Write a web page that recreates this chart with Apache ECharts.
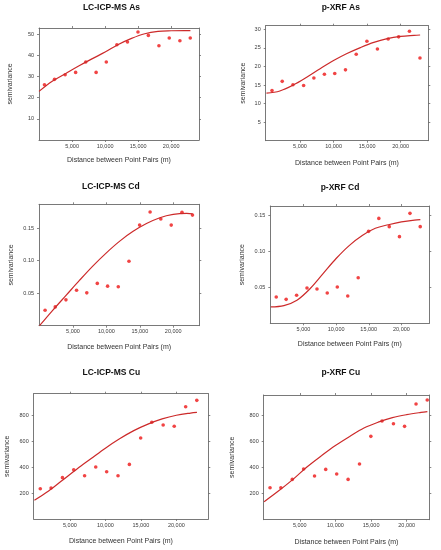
<!DOCTYPE html>
<html><head><meta charset="utf-8">
<script src="https://cdn.jsdelivr.net/npm/echarts@6/dist/echarts.min.js"></script>
<style>html,body{margin:0;padding:0;background:#fff}#c{width:441px;height:550px}</style>
</head><body><div id="c"></div>
<script>
// ---- data ----
const lags = [830, 2350, 3950, 5540, 7070, 8640, 10180, 11780, 13380, 14970, 16540, 18140, 19700, 21310, 22880];
const lcAs  = [26.1, 28.7, 30.9, 32.0, 36.9, 32.0, 36.9, 45.1, 46.4, 51.1, 49.5, 44.6, 48.3, 47.0, 48.3];
const xrfAs = [13.5, 16.0, 15.1, 14.9, 16.9, 17.9, 18.1, 19.1, 23.3, 26.8, 24.7, 27.4, 28.0, 29.5, 22.3];
const lcCd  = [0.0237, 0.0289, 0.0397, 0.0546, 0.0505, 0.065, 0.0608, 0.0598, 0.099, 0.1546, 0.1747, 0.1639, 0.1546, 0.1742, 0.170];
const xrfCd = [0.0366, 0.0333, 0.0389, 0.049, 0.0477, 0.0421, 0.0505, 0.038, 0.0634, 0.1278, 0.1458, 0.1343, 0.1204, 0.1528, 0.1343];
const lcCu  = [233, 238, 318, 379, 333, 400, 364, 333, 420, 623, 744, 723, 713, 864, 913];
const xrfCu = [246, 246, 310, 390, 336, 387, 351, 310, 428, 641, 759, 738, 718, 890, 921];

const fitX = [0, 2000, 4000, 6000, 8000, 10000, 12000, 14000, 16000, 18000, 20000, 22000, 22900];
const lcAsFit  = [23.0, 27.8, 31.4, 35.0, 38.4, 41.6, 45.2, 48.1, 50.3, 51.4, 51.7, 51.8, 51.8];
const xrfAsFit = [12.8, 13.4, 15.0, 17.1, 19.4, 21.6, 23.5, 25.1, 26.5, 27.5, 28.1, 28.4, 28.5];
const lcCdFit  = [0, 0.024, 0.047, 0.070, 0.092, 0.112, 0.130, 0.145, 0.157, 0.166, 0.171, 0.1725, 0.172];
const xrfCdFit = [0.0227, 0.0245, 0.032, 0.048, 0.069, 0.090, 0.108, 0.122, 0.132, 0.137, 0.141, 0.1435, 0.144];
const lcCuFit  = [144, 215, 300, 385, 465, 545, 617, 680, 730, 770, 798, 815, 820];
const xrfCuFit = [138, 220, 308, 405, 490, 570, 640, 705, 750, 785, 808, 825, 831];

const xTickValues = [5000, 10000, 15000, 20000];
const yTicksLcAs  = [10, 20, 30, 40, 50];
const yTicksXrfAs = [5, 10, 15, 20, 25, 30];
const yTicksCd    = [0.05, 0.10, 0.15];
const yTicksCu    = [200, 400, 600, 800];

const titles = ['LC-ICP-MS As', 'p-XRF As', 'LC-ICP-MS Cd', 'p-XRF Cd', 'LC-ICP-MS Cu', 'p-XRF Cu'];
const xAxisTitle = 'Distance between Point Pairs (m)';
const yAxisTitle = 'semivariance';

const pointSets = [lcAs, xrfAs, lcCd, xrfCd, lcCu, xrfCu];
const fitSets = [lcAsFit, xrfAsFit, lcCdFit, xrfCdFit, lcCuFit, xrfCuFit];
const yTickSets = [yTicksLcAs, yTicksXrfAs, yTicksCd, yTicksCd, yTicksCu, yTicksCu];

// ---- layout ----
const layout = [
  {g:[39,28,160,112],        x:[0,24200],   y:[0,53],     tx:111.5, ty:8.3,   xg:17, yg:25, dec:0},
  {g:[265.7,25.7,162.6,115], x:[-110,24120],y:[0,31],     tx:340.8, ty:8.0,   xg:19, yg:19, dec:0},
  {g:[39,204.3,160.3,121.4], x:[-80,23900], y:[0,0.1866], tx:110.8, ty:187.3, xg:17.5, yg:24.5, dec:2},
  {g:[270.3,206,159,117.3],  x:[-80,24270], y:[0,0.163],  tx:340,   ty:188.3, xg:17.5, yg:25, dec:2},
  {g:[33.7,393.7,174.6,125.3],x:[-100,24500],y:[0,964],   tx:111.3, ty:373.3, xg:19, yg:23, dec:0},
  {g:[263.7,395,165.6,124.7],x:[-60,23170], y:[0,959],    tx:340.8, ty:373.3, xg:18.5, yg:28, dec:0}
];

const FONT = '"Liberation Sans", Arial, Helvetica, sans-serif';
const boxColor = '#6a6a6a';
const labelColor = '#3a3a3a';

const grid = [], xAxis = [], yAxis = [], series = [], title = [];
layout.forEach((L, i) => {
  grid.push({left: L.g[0], top: L.g[1], width: L.g[2], height: L.g[3], containLabel: false});
  title.push({text: titles[i], left: L.tx, top: L.ty - 5, textAlign: 'center', padding: 0,
    textStyle: {fontFamily: FONT, fontSize: 8.5, fontWeight: 'bold', color: '#111'}});
  const common = {
    type: 'value', gridIndex: i, splitLine: {show: false},
    axisLine: {show: true, onZero: false, lineStyle: {color: boxColor, width: 0.9}}
  };
  xAxis.push(Object.assign({}, common, {
    position: 'bottom', min: L.x[0], max: L.x[1],
    axisTick: {show: true, inside: false, length: 2, customValues: xTickValues, lineStyle: {color: boxColor, width: 0.8}},
    axisLabel: {show: true, customValues: xTickValues, margin: 3, fontSize: 5.5, fontFamily: FONT, color: labelColor},
    name: xAxisTitle, nameLocation: 'middle', nameGap: L.xg,
    nameTextStyle: {fontFamily: FONT, fontSize: 7, color: '#333'}
  }));
  xAxis.push(Object.assign({}, common, {
    position: 'top', min: L.x[0], max: L.x[1],
    axisTick: {show: true, inside: false, length: 2, customValues: xTickValues, lineStyle: {color: boxColor, width: 0.8}},
    axisLabel: {show: false}
  }));
  const yt = yTickSets[i];
  yAxis.push(Object.assign({}, common, {
    position: 'left', min: L.y[0], max: L.y[1],
    axisTick: {show: true, inside: false, length: 2, customValues: yt, lineStyle: {color: boxColor, width: 0.8}},
    axisLabel: {show: true, customValues: yt, margin: 5, fontSize: 5.5, fontFamily: FONT, color: labelColor,
      formatter: v => Number(v).toFixed(L.dec)},
    name: yAxisTitle, nameLocation: 'middle', nameGap: L.yg, nameRotate: 90,
    nameTextStyle: {fontFamily: FONT, fontSize: 7, color: '#333'}
  }));
  yAxis.push(Object.assign({}, common, {
    position: 'right', min: L.y[0], max: L.y[1],
    axisTick: {show: true, inside: false, length: 2, customValues: yt, lineStyle: {color: boxColor, width: 0.8}},
    axisLabel: {show: false}
  }));
  series.push({
    type: 'line', xAxisIndex: 2*i, yAxisIndex: 2*i, smooth: 0.35,
    symbol: 'none', silent: true, clip: true,
    lineStyle: {color: '#cc2a2a', width: 1.2},
    data: fitX.map((x, k) => [x, fitSets[i][k]])
  });
  series.push({
    type: 'scatter', xAxisIndex: 2*i, yAxisIndex: 2*i, symbol: 'circle', symbolSize: 3.6,
    itemStyle: {color: '#ee1515'}, silent: true,
    data: lags.map((x, k) => [x, pointSets[i][k]])
  });
});

const chart = echarts.init(document.getElementById('c'), null, {renderer: 'canvas'});
chart.setOption({animation: false, backgroundColor: '#fff', title, grid, xAxis, yAxis, series});
</script>
</body></html>
